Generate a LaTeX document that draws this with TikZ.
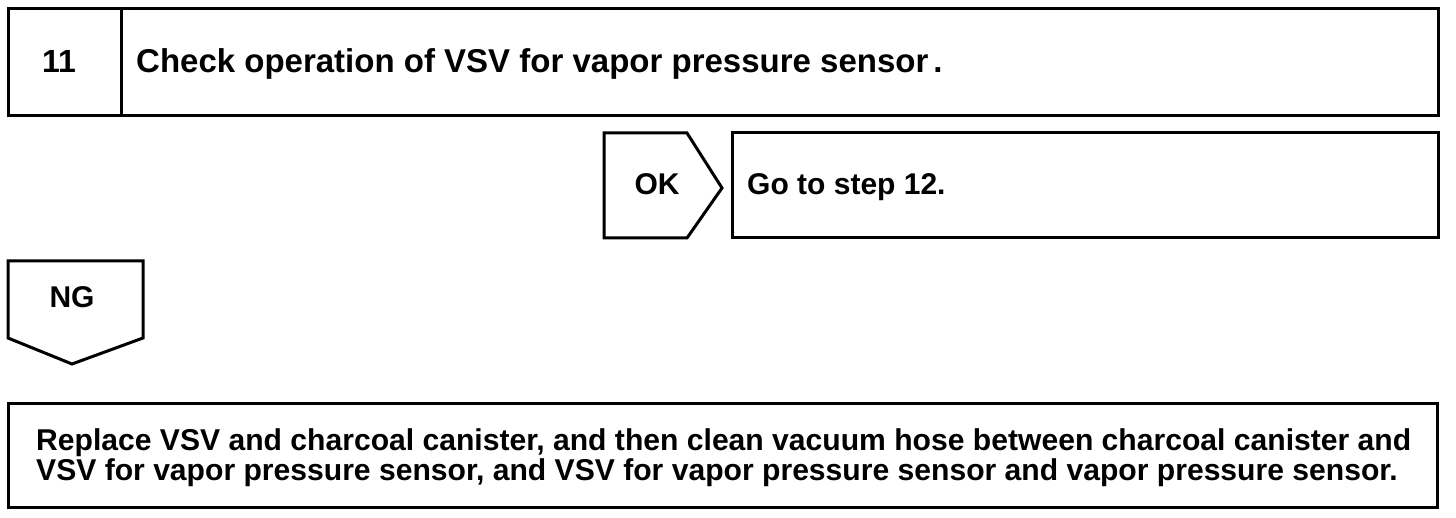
\documentclass[tikz,border=0pt]{standalone}
\usepackage{fontspec}
\setmainfont{Liberation Sans}
\begin{document}
\begin{tikzpicture}[x=1pt,y=-1pt,line join=miter,
  box/.style={draw,line width=3pt,inner sep=0pt},
  tag/.style={line width=3pt},
  lbl/.style={font=\fontsize{30}{30}\selectfont\bfseries,inner sep=0pt,anchor=base west},
  clbl/.style={font=\fontsize{30}{30}\selectfont\bfseries,inner sep=0pt,anchor=base}]
\useasboundingbox (0,0) rectangle (1456,518);
% step header
\node[box,minimum width=113pt,minimum height=107pt] (num) at (64.5,62.5) {};
\node[box,minimum width=1317pt,minimum height=107pt] (title) at (779.5,62.5) {};
\node[clbl,font=\fontsize{32}{32}\selectfont\bfseries] (numtxt) at (59,73) {11};
\node[lbl,font=\fontsize{33}{33}\selectfont\bfseries] (titletxt) at (136,73) {Check operation of VSV for vapor pressure sensor\kern5pt.};
% OK tag
\coordinate (ok1) at (604,133);
\coordinate (ok2) at (687,133);
\coordinate (ok3) at (722,188);
\coordinate (ok4) at (687,238);
\coordinate (ok5) at (604,238);
\draw[tag] (ok1) -- (ok2) -- (ok3) -- (ok4) -- (ok5) -- cycle;
\node[clbl] (oktxt) at (657,195) {OK};
\node[box,minimum width=706pt,minimum height=105pt] (go) at (1085,185.5) {};
\node[lbl] (gotxt) at (747,195) {Go to step 12.};
% NG tag
\coordinate (ng1) at (8,261);
\coordinate (ng2) at (143,261);
\coordinate (ng3) at (143,338);
\coordinate (ng4) at (72,364);
\coordinate (ng5) at (8,338);
\draw[tag] (ng1) -- (ng2) -- (ng3) -- (ng4) -- (ng5) -- cycle;
\node[clbl] (ngtxt) at (72,308) {NG};
% result box
\node[box,minimum width=1429pt,minimum height=104pt] (res) at (722.5,455) {};
\node[font=\fontsize{30.1}{30}\selectfont\bfseries,inner sep=0pt,align=left,anchor=north west] (restxt) at (36,428) {Replace VSV and charcoal canister, and then clean vacuum hose between charcoal canister and\\VSV for vapor pressure sensor, and VSV for vapor pressure sensor and vapor pressure sensor.};
\end{tikzpicture}
\end{document}
